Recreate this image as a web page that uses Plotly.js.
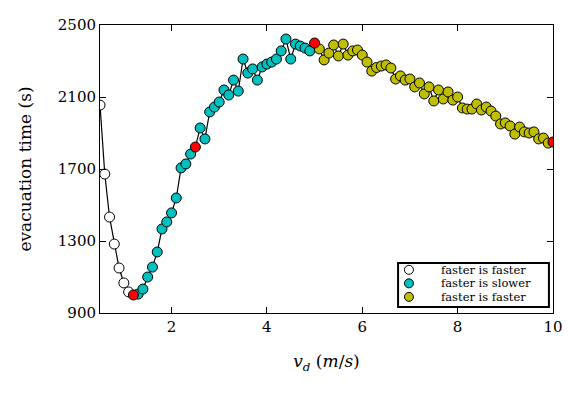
<!DOCTYPE html>
<html>
<head>
<meta charset="utf-8">
<script src="https://cdn.plot.ly/plotly-3.0.1.min.js"></script>
<style>
  body { margin: 0; background: white; }
  #figure { width: 581px; height: 394px; }
</style>
</head>
<body>
<div id="figure"></div>
<script>
// Desired speed v_d (m/s) and evacuation time (s), split by regime
const vdFaster1 = [0.5, 0.6, 0.7, 0.8, 0.9, 1.0, 1.1];
const timeFaster1 = [2055, 1672, 1433, 1283, 1150, 1067, 1017];

const vdSlower = [1.3, 1.4, 1.5, 1.6, 1.7, 1.8, 1.9, 2.0, 2.1, 2.2, 2.3, 2.4,
  2.6, 2.7, 2.8, 2.9, 3.0, 3.1, 3.2, 3.3, 3.4, 3.5, 3.6, 3.7, 3.8, 3.9,
  4.0, 4.1, 4.2, 4.3, 4.4, 4.5, 4.6, 4.7, 4.8, 4.9];
const timeSlower = [1005, 1033, 1100, 1155, 1239, 1367, 1406, 1456, 1539, 1706, 1728, 1783,
  1928, 1867, 2017, 2044, 2072, 2139, 2111, 2194, 2133, 2311, 2233, 2256, 2194, 2267,
  2283, 2294, 2311, 2356, 2422, 2311, 2394, 2383, 2372, 2356];

const vdFaster2 = [5.1, 5.2, 5.3, 5.4, 5.5, 5.6, 5.7, 5.8, 5.9, 6.0,
  6.1, 6.2, 6.3, 6.4, 6.5, 6.6, 6.7, 6.8, 6.9, 7.0,
  7.1, 7.2, 7.3, 7.4, 7.5, 7.6, 7.7, 7.8, 7.9, 8.0,
  8.1, 8.2, 8.3, 8.4, 8.5, 8.6, 8.7, 8.8, 8.9, 9.0,
  9.1, 9.2, 9.3, 9.4, 9.5, 9.6, 9.7, 9.8, 9.9];
const timeFaster2 = [2367, 2306, 2344, 2389, 2328, 2394, 2333, 2356, 2361, 2333,
  2294, 2244, 2264, 2272, 2278, 2261, 2200, 2217, 2194, 2200,
  2156, 2178, 2117, 2156, 2078, 2139, 2089, 2128, 2083, 2100,
  2039, 2033, 2033, 2061, 2028, 2044, 2022, 1994, 1950, 1956,
  1939, 1894, 1933, 1906, 1900, 1906, 1867, 1872, 1844];

// transition points (red)
const vdTransition = [1.2, 2.5, 5.0, 10.0];
const timeTransition = [1000, 1822, 2400, 1850];

const legendNames = ["faster is faster", "faster is slower", "faster is faster"];
const legendColors = ["white", "#00bfbf", "#bfbf00"];

// full curve, sorted by v_d
var allPts = [];
[[vdFaster1, timeFaster1], [vdSlower, timeSlower], [vdFaster2, timeFaster2],
 [vdTransition, timeTransition]].forEach(function(g) {
  for (let i = 0; i < g[0].length; i++) allPts.push([g[0][i], g[1][i]]);
});
allPts.sort((a, b) => a[0] - b[0]);

const serif = "'DejaVu Serif', 'Liberation Serif', serif";

function markerTrace(x, y, color, name) {
  return {
    x: x, y: y,
    type: 'scatter',
    mode: 'markers',
    name: name,
    showlegend: false,
    marker: { size: 10, color: color, line: { color: 'black', width: 1 } }
  };
}

var traces = [
  {
    x: allPts.map(p => p[0]),
    y: allPts.map(p => p[1]),
    type: 'scatter',
    mode: 'lines',
    line: { color: 'black', width: 1.2 },
    showlegend: false,
    hoverinfo: 'skip'
  },
  markerTrace(vdFaster1, timeFaster1, legendColors[0], legendNames[0]),
  markerTrace(vdSlower, timeSlower, legendColors[1], legendNames[1]),
  markerTrace(vdFaster2, timeFaster2, legendColors[2], legendNames[2]),
  markerTrace(vdTransition, timeTransition, 'red', 'transition')
];

// compact legend box drawn with shapes + annotations
var shapes = [{
  type: 'rect', xref: 'paper', yref: 'paper',
  x0: 0.658, x1: 0.991, y0: 0.021, y1: 0.174,
  line: { color: 'black', width: 2 }, fillcolor: 'white', layer: 'above'
}];
var annotations = [];
legendNames.forEach(function(name, i) {
  let yc = 0.15 - i * 0.047;
  shapes.push({
    type: 'circle', xref: 'paper', yref: 'paper',
    xsizemode: 'pixel', ysizemode: 'pixel',
    xanchor: 0.682, yanchor: yc,
    x0: -4.5, x1: 4.5, y0: -4.5, y1: 4.5,
    fillcolor: legendColors[i], line: { color: 'black', width: 1 }, layer: 'above'
  });
  annotations.push({
    xref: 'paper', yref: 'paper', x: 0.748, y: yc,
    xanchor: 'left', yanchor: 'middle', showarrow: false,
    text: name, font: { family: serif, size: 11.5, color: 'black' }
  });
});

var layout = {
  width: 581,
  height: 394,
  margin: { l: 100, r: 28, t: 25, b: 81 },
  paper_bgcolor: 'white',
  plot_bgcolor: 'white',
  font: { family: serif, color: 'black', size: 15 },
  shapes: shapes,
  annotations: annotations,
  xaxis: {
    range: [0.5, 10],
    tickvals: [2, 4, 6, 8, 10],
    ticks: 'inside',
    ticklen: 6,
    tickcolor: 'black',
    showgrid: false,
    zeroline: false,
    showline: true,
    linecolor: 'black',
    linewidth: 1,
    mirror: 'allticks',
    tickfont: { family: serif, size: 15 },
    title: { text: '<i>v</i><sub><i>d</i></sub> (<i>m</i>/<i>s</i>)', font: { family: serif, size: 17 }, standoff: 20 }
  },
  yaxis: {
    range: [900, 2500],
    tickvals: [900, 1300, 1700, 2100, 2500],
    ticks: 'inside',
    ticklen: 6,
    tickcolor: 'black',
    showgrid: false,
    zeroline: false,
    showline: true,
    linecolor: 'black',
    linewidth: 1,
    mirror: 'allticks',
    tickfont: { family: serif, size: 15 },
    title: { text: 'evacuation time (s)', font: { family: serif, size: 17 }, standoff: 21 }
  }
};

Plotly.newPlot('figure', traces, layout, { staticPlot: true });
</script>
</body>
</html>
